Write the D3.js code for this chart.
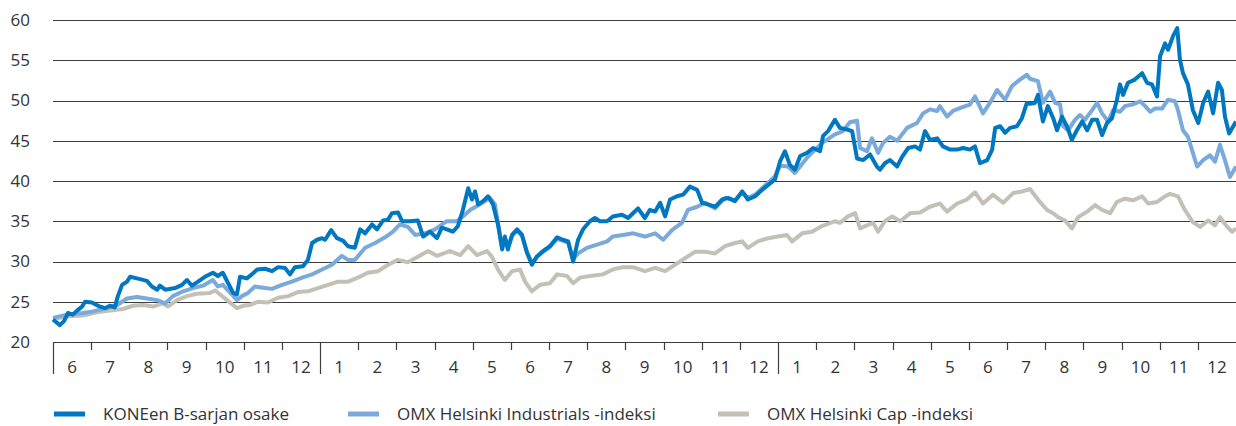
<html>
<head>
  <meta charset="utf-8">
  <style>
    body { margin: 0; background: #fff; }
    text { font-family: "Open Sans", sans-serif; fill: #333; }
  </style>
</head>
<body>
  <svg id="container" width="1236" height="426"></svg>
  <script src="https://cdn.jsdelivr.net/npm/d3@7"></script>
  <script>
    // month labels, starting from June of the first year
    let monthLabels = ["6","7","8","9","10","11","12",
      "1","2","3","4","5","6","7","8","9","10","11","12",
      "1","2","3","4","5","6","7","8","9","10","11","12"]
    let yearStarts = [0, 7, 19]
    let yTicks = [20, 25, 30, 35, 40, 45, 50, 55, 60]

    // positions are in months from the start of the chart
    let koneT = [0,0.18,0.29,0.39,0.52,0.63,0.76,0.84,1.02,1.18,1.36,1.49,1.62,1.70,1.81,1.94,2.02,2.20,2.46,2.59,2.73,2.80,2.94,3.20,3.38,3.51,3.64,3.80,3.98,4.19,4.32,4.45,4.59,4.72,4.82,4.90,5.08,5.21,5.35,5.56,5.74,5.90,6.08,6.21,6.34,6.55,6.68,6.79,6.92,7.05,7.13,7.29,7.44,7.60,7.73,7.91,8.05,8.18,8.36,8.49,8.65,8.78,8.88,9.04,9.15,9.36,9.56,9.70,9.88,10.06,10.19,10.32,10.48,10.61,10.74,10.88,10.98,11.06,11.14,11.27,11.40,11.53,11.66,11.77,11.84,11.92,12.03,12.16,12.29,12.42,12.55,12.68,12.84,13.02,13.21,13.36,13.50,13.60,13.63,13.76,13.89,14.07,14.20,14.33,14.52,14.67,14.91,15.07,15.20,15.33,15.51,15.64,15.78,15.91,16.04,16.17,16.35,16.51,16.69,16.88,17.01,17.16,17.35,17.53,17.69,17.87,18.06,18.21,18.40,18.58,18.74,18.92,19.05,19.18,19.31,19.44,19.58,19.76,19.92,20.10,20.18,20.31,20.49,20.62,20.81,20.94,21.07,21.23,21.41,21.59,21.67,21.80,21.93,22.12,22.25,22.41,22.59,22.72,22.85,22.98,23.17,23.32,23.51,23.69,23.85,24.03,24.16,24.29,24.48,24.61,24.69,24.82,24.95,25.08,25.26,25.39,25.52,25.60,25.73,25.81,25.94,26.07,26.21,26.31,26.44,26.57,26.70,26.83,26.97,27.10,27.23,27.36,27.49,27.62,27.75,27.88,27.96,28.04,28.17,28.35,28.54,28.67,28.80,28.93,29.01,29.14,29.22,29.35,29.46,29.53,29.61,29.74,29.87,30.01,30.14,30.27,30.40,30.53,30.63,30.71,30.82,31.0]
    let koneV = [22.8,22.1,22.6,23.6,23.4,23.9,24.4,25.0,24.9,24.5,24.2,24.5,24.3,25.7,27.1,27.5,28.1,27.9,27.6,26.9,26.5,27.0,26.5,26.7,27.1,27.7,27.0,27.5,28.1,28.6,28.2,28.6,27.3,26.1,25.9,28.1,27.9,28.4,29.0,29.1,28.8,29.3,29.2,28.4,29.3,29.4,30.2,32.3,32.7,32.9,32.7,33.9,32.9,32.6,31.9,31.7,34.0,33.5,34.6,34.0,35.1,35.2,36.0,36.1,35.0,35.0,35.1,33.1,33.7,32.9,34.2,34.0,33.7,34.4,36.4,39.1,37.7,38.7,37.1,37.5,38.1,37.1,34.6,31.5,33.1,31.5,33.3,34.0,33.3,31.1,29.6,30.6,31.3,31.9,33.0,32.7,32.5,30.6,30.0,32.7,34.0,35.0,35.4,35.0,35.0,35.6,35.8,35.4,36.0,36.6,35.4,36.4,36.2,37.3,35.6,37.7,38.1,38.3,39.3,38.9,37.3,37.1,36.8,37.7,37.9,37.5,38.7,37.7,38.1,38.9,39.5,40.2,42.4,43.7,42.0,41.4,43.1,43.5,44.1,43.7,45.6,46.2,47.6,46.6,46.4,46.2,42.8,42.6,43.3,41.8,41.4,42.2,42.6,41.8,43.0,44.1,44.3,43.9,46.2,45.1,45.3,44.3,43.9,43.9,44.1,43.9,44.3,42.2,42.6,43.9,46.6,46.8,46.0,46.6,46.8,47.8,49.7,49.6,49.7,50.7,47.4,49.3,47.8,46.3,48.0,46.8,45.1,46.3,47.4,46.3,47.6,47.6,45.7,47.2,47.8,50.1,52.0,50.7,52.2,52.6,53.4,52.2,52.0,50.5,55.5,57.1,56.3,58.0,59.0,55.1,53.4,52.0,48.8,47.2,49.7,51.1,48.4,52.2,51.3,48.0,45.9,47.4]

    let industT = [0,0.37,0.79,1.05,1.31,1.68,1.94,2.20,2.46,2.73,2.94,3.14,3.41,3.67,3.93,4.19,4.32,4.45,4.69,4.82,4.95,5.11,5.29,5.56,5.74,6.00,6.26,6.53,6.79,7.05,7.31,7.57,7.73,7.91,8.18,8.44,8.70,8.91,9.09,9.30,9.49,9.75,10.01,10.22,10.32,10.59,10.74,10.93,11.19,11.45,11.58,11.66,11.77,11.84,11.92,12.03,12.16,12.29,12.42,12.55,12.68,12.84,13.02,13.21,13.36,13.50,13.63,13.76,13.99,14.26,14.52,14.67,14.94,15.20,15.51,15.78,15.99,16.22,16.48,16.64,16.88,17.09,17.35,17.61,17.87,18.06,18.21,18.40,18.58,18.74,18.92,19.05,19.26,19.44,19.76,20.15,20.49,20.70,20.88,21.07,21.15,21.33,21.46,21.62,21.75,21.93,22.12,22.38,22.64,22.80,22.98,23.17,23.24,23.43,23.58,23.85,24.03,24.16,24.37,24.55,24.74,24.95,25.13,25.34,25.52,25.60,25.81,25.94,26.13,26.26,26.39,26.47,26.60,26.78,26.91,27.04,27.23,27.36,27.49,27.65,27.78,27.96,28.09,28.28,28.49,28.62,28.75,28.88,29.06,29.22,29.40,29.48,29.61,29.74,29.85,29.98,30.14,30.32,30.45,30.58,30.71,30.84,31.0]
    let industV = [23.0,23.4,23.6,23.8,24.1,24.6,25.4,25.6,25.4,25.2,24.8,25.7,26.3,26.7,27.0,27.7,26.9,27.1,25.9,25.2,25.7,26.1,26.9,26.7,26.6,27.1,27.5,28.0,28.4,29.0,29.6,30.7,30.2,30.2,31.7,32.3,33.0,33.7,34.6,34.3,33.3,33.5,34.0,34.7,35.0,35.0,35.6,36.4,37.1,37.9,37.1,34.8,31.8,33.0,31.8,33.2,33.8,33.2,31.2,29.8,30.6,31.2,31.8,32.8,32.6,32.3,30.3,31.0,31.7,32.1,32.5,33.1,33.3,33.5,33.1,33.5,32.7,33.9,34.8,36.4,36.8,37.3,36.6,37.9,37.6,38.6,37.9,38.3,39.1,39.8,40.6,41.9,41.8,41.0,42.9,44.7,45.8,46.2,47.3,47.5,44.1,43.7,45.3,43.5,44.7,45.5,45.0,46.6,47.2,48.4,48.9,48.7,49.3,48.0,48.7,49.2,49.5,50.5,48.4,49.7,51.3,50.1,51.8,52.6,53.2,52.7,52.4,49.7,51.1,49.7,49.5,46.8,46.3,47.6,48.2,47.6,48.8,49.7,48.4,47.4,48.8,48.6,49.3,49.5,49.9,49.3,48.6,49.0,49.0,50.1,49.9,48.8,46.3,45.5,43.8,41.8,42.6,43.2,42.4,44.5,42.6,40.5,41.8]

    let capT = [0,0.45,0.79,1.15,1.49,1.83,2.10,2.36,2.62,2.88,3.01,3.25,3.51,3.77,4.11,4.25,4.38,4.56,4.82,4.98,5.16,5.37,5.63,5.90,6.16,6.42,6.68,6.94,7.21,7.47,7.73,7.99,8.25,8.52,8.78,9.04,9.30,9.56,9.83,10.06,10.40,10.67,10.88,11.11,11.37,11.50,11.66,11.84,12.03,12.24,12.37,12.55,12.76,13.02,13.21,13.47,13.63,13.81,14.07,14.41,14.67,14.94,15.20,15.51,15.78,16.04,16.30,16.56,16.82,17.09,17.35,17.61,17.87,18.06,18.21,18.47,18.74,19.00,19.23,19.37,19.63,19.89,20.15,20.49,20.62,20.83,21.02,21.15,21.33,21.49,21.62,21.80,21.99,22.20,22.46,22.72,22.98,23.24,23.43,23.69,23.95,24.16,24.37,24.63,24.90,25.16,25.39,25.60,25.68,25.86,26.05,26.21,26.34,26.52,26.70,26.86,27.10,27.31,27.49,27.70,27.88,28.09,28.30,28.54,28.70,28.93,29.14,29.27,29.48,29.66,29.87,30.06,30.27,30.45,30.58,30.77,30.90,31.0]
    let capV = [22.9,23.2,23.3,23.7,23.9,24.1,24.5,24.6,24.4,24.8,24.4,25.2,25.7,26.0,26.1,26.4,25.9,25.2,24.2,24.5,24.6,25.0,24.9,25.5,25.7,26.2,26.3,26.7,27.1,27.5,27.5,28.0,28.6,28.8,29.6,30.2,29.9,30.6,31.3,30.7,31.3,30.8,31.9,30.8,31.3,30.6,29.0,27.7,28.8,29.0,27.5,26.3,27.1,27.3,28.4,28.2,27.3,28.0,28.2,28.4,29.0,29.3,29.3,28.8,29.2,28.8,29.6,30.4,31.2,31.2,31.0,31.9,32.3,32.5,31.7,32.5,32.9,33.1,33.3,32.5,33.5,33.7,34.4,35.0,34.8,35.6,36.0,34.1,34.5,34.8,33.7,35.0,35.6,35.0,36.0,36.1,36.8,37.2,36.2,37.2,37.7,38.6,37.2,38.3,37.3,38.5,38.7,39.0,38.5,37.4,36.4,36.0,35.5,35.1,34.1,35.5,36.2,37.0,36.4,36.0,37.4,37.8,37.6,38.1,37.2,37.4,38.1,38.4,38.1,36.4,34.9,34.3,35.1,34.5,35.5,34.3,33.7,34.1]

    let seriesNames = ["KONEen B-sarjan osake", "OMX Helsinki Industrials -indeksi", "OMX Helsinki Cap -indeksi"]
    let seriesColors = ["#0077c1", "#7aaadb", "#c4c0b6"]

    let svg = d3.select("#container")
    let plotLeft = 53, plotRight = 1236, plotTop = 20, plotBottom = 342

    let x = d3.scaleLinear().domain([0, 31]).range([plotLeft, plotRight])
    let y = d3.scaleLinear().domain([20, 60]).range([plotBottom, plotTop])

    // horizontal grid
    svg.append("g").selectAll("line").data(yTicks)
      .enter().append("line")
      .attr("x1", plotLeft).attr("x2", plotRight)
      .attr("y1", d => Math.round(y(d)) + 0.5).attr("y2", d => Math.round(y(d)) + 0.5)
      .attr("stroke", "#3c3c3c").attr("stroke-width", 1.2)

    svg.append("g").selectAll("text").data(yTicks)
      .enter().append("text")
      .attr("x", 30).attr("y", d => y(d))
      .attr("dy", "0.35em")
      .attr("text-anchor", "end")
      .attr("font-size", 17)
      .text(d => d)

    // month ticks and labels
    let months = d3.range(monthLabels.length)
    svg.append("g").selectAll("line").data(months)
      .enter().append("line")
      .attr("x1", d => Math.round(x(d)) + 0.5).attr("x2", d => Math.round(x(d)) + 0.5)
      .attr("y1", plotBottom)
      .attr("y2", d => yearStarts.includes(d) ? 374 : 350)
      .attr("stroke", "#3c3c3c").attr("stroke-width", 1.2)

    svg.append("g").selectAll("text").data(months)
      .enter().append("text")
      .attr("x", d => x(d + 0.5)).attr("y", 373)
      .attr("text-anchor", "middle")
      .attr("font-size", 17)
      .text(d => monthLabels[d])

    // lines, grey first so KONE ends on top
    let series = [
      { t: capT, v: capV, color: seriesColors[2] },
      { t: industT, v: industV, color: seriesColors[1] },
      { t: koneT, v: koneV, color: seriesColors[0] }
    ]
    let line = d3.line()
      .x(d => x(d[0]))
      .y(d => y(d[1]))

    svg.append("g").selectAll("path").data(series)
      .enter().append("path")
      .attr("d", s => line(d3.zip(s.t, s.v)))
      .attr("fill", "none")
      .attr("stroke", s => s.color)
      .attr("stroke-width", 4)
      .attr("stroke-linejoin", "round")

    // legend, kept just inside the bottom edge
    let legendX = [54, 348, 718]
    let legend = svg.append("g").selectAll("g").data(seriesNames)
      .enter().append("g")
      .attr("transform", (d, i) => "translate(" + legendX[i] + ",414)")
    legend.append("line")
      .attr("x1", 0).attr("x2", 31)
      .attr("stroke", (d, i) => seriesColors[i])
      .attr("stroke-width", 5)
    legend.append("text")
      .attr("x", 49).attr("dy", "0.35em")
      .attr("font-size", 17)
      .text(d => d)
  </script>
</body>
</html>
